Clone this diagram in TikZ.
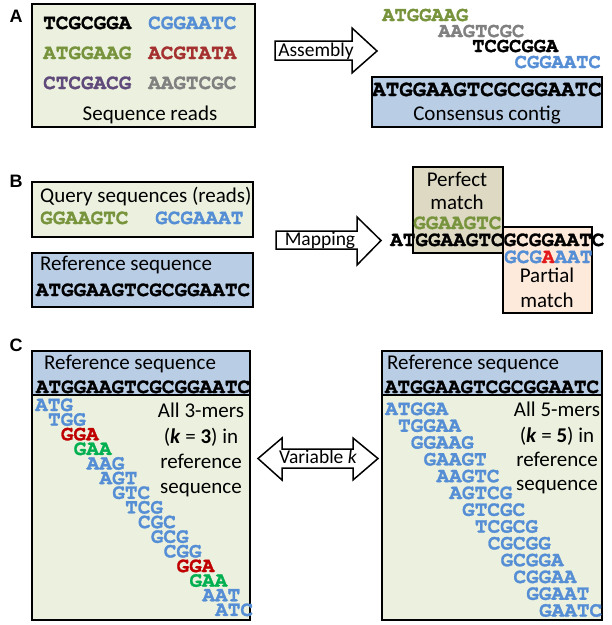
\documentclass[tikz,border=0pt]{standalone}
\usepackage{fontspec}
\setmainfont{Carlito}
\newfontfamily\courfont{TeX Gyre Cursor}[BoldFeatures={FakeBold=1.3}]
\newfontfamily\hdrfont{Liberation Sans}
\definecolor{olivebg}{HTML}{EBF1DE}
\definecolor{bluebg}{HTML}{B9CDE5}
\definecolor{tanbg}{HTML}{DDD9C3}
\definecolor{peachbg}{HTML}{FDEADA}
\definecolor{seqblue}{HTML}{558ED5}
\definecolor{seqgreen}{HTML}{77933C}
\definecolor{seqbrick}{HTML}{A53030}
\definecolor{seqpurple}{HTML}{604A7B}
\definecolor{seqgray}{HTML}{808080}
\definecolor{kred}{HTML}{C00000}
\definecolor{kgreen}{HTML}{00B050}
\definecolor{mismatch}{HTML}{E31A1C}
\begin{document}
\begin{tikzpicture}[x=1pt,y=-1pt,
  panel/.style={draw=black, line width=1.8pt},
  seq/.style={font=\courfont\bfseries\fontsize{21}{21}\selectfont, inner sep=0pt, text height=12pt, text depth=0pt},
  seqs/.style={font=\courfont\bfseries\fontsize{20.5}{20.5}\selectfont, inner sep=0pt, text height=12pt, text depth=0pt},
  seqb/.style={font=\courfont\bfseries\fontsize{22.5}{22.5}\selectfont, inner sep=0pt, text height=12pt, text depth=0pt},
  lbl/.style={font=\fontsize{21}{25}\selectfont, inner sep=0pt, text height=14pt, text depth=4pt},
  albl/.style={font=\fontsize{19.5}{22}\selectfont, inner sep=0pt, text height=14pt, text depth=4pt},
  hdr/.style={font=\hdrfont\bfseries\fontsize{18}{18}\selectfont, inner sep=0pt},
  blockarrow/.style={draw=black, fill=white, line width=1.5pt, line join=miter},
]
\fill[white] (0,0) rectangle (612,625);
\useasboundingbox (0,0) rectangle (612,625);

% ---------------- Panel A ----------------
\node[hdr] (labA) at (16,16) {A};
\draw[panel, fill=olivebg] (32,4) rectangle (255,127);
\node[seq, anchor=west, text=black]     (rA1) at (43,23)  {TCGCGGA};
\node[seq, anchor=west, text=seqblue]   (rA2) at (148,23) {CGGAATC};
\node[seq, anchor=west, text=seqgreen]  (rA3) at (43,53)  {ATGGAAG};
\node[seq, anchor=west, text=seqbrick]  (rA4) at (148,53) {ACGTATA};
\node[seq, anchor=west, text=seqpurple] (rA5) at (43,83)  {CTCGACG};
\node[seq, anchor=west, text=seqgray]   (rA6) at (148,83) {AAGTCGC};
\node[lbl] (srA) at (150,115) {Sequence reads};

\draw[blockarrow] (275,41) -- (352,41) -- (352,28) -- (377,51) -- (352,73) -- (352,60) -- (275,60) -- cycle;
\node[albl] (asm) at (316,51) {Assembly};

\node[seqs, anchor=west, text=seqgreen] (cA1) at (382,15) {ATGGAAG};
\node[seqs, anchor=west, text=seqgray]  (cA2) at (438,31) {AAGTCGC};
\node[seqs, anchor=west, text=black]    (cA3) at (472,46) {TCGCGGA};
\node[seqs, anchor=east, text=seqblue]  (cA4) at (601,62) {CGGAATC};
\draw[panel, fill=bluebg] (372,77) rectangle (602,127);
\node[seqb, text=black] (consA) at (487,90) {ATGGAAGTCGCGGAATC};
\node[lbl] (ccA) at (487,115) {Consensus contig};

% ---------------- Panel B ----------------
\node[hdr] (labB) at (16,181) {B};
\draw[panel, fill=olivebg] (32,182) rectangle (253,237);
\node[lbl, anchor=west] (qB) at (40,197) {Query sequences (reads)};
\node[seq, anchor=west, text=seqgreen] (qB1) at (40,218) {GGAAGTC};
\node[seq, anchor=west, text=seqblue]  (qB2) at (155,218) {GCGAAAT};
\draw[panel, fill=bluebg] (32,253) rectangle (253,307);
\node[lbl, anchor=west] (rfB) at (40,265) {Reference sequence};
\node[seq, text=black] (rsB) at (143,290) {ATGGAAGTCGCGGAATC};

\draw[blockarrow] (276,231) -- (357,231) -- (357,217) -- (381,240.5) -- (357,265) -- (357,249) -- (276,249) -- cycle;
\node[albl] (mapB) at (320,240) {Mapping};

\draw[panel, fill=tanbg] (413,167) rectangle (503,253);
\draw[panel, fill=peachbg] (503,227) rectangle (592,313);
\node[lbl] (pf1) at (457,181) {Perfect};
\node[lbl] (pf2) at (457,204) {match};
\node[seq, anchor=west, text=seqgreen] (pfs) at (413,223) {GGAAGTC};
\node[seq, anchor=west, text=black] (refB) at (390,240) {ATGGAAGTCGCGGAATC};
\node[seq, anchor=west, text=seqblue] (pms) at (504,257) {GCG\textcolor{mismatch}{A}AAT};
\node[lbl] (pm1) at (547,277) {Partial};
\node[lbl] (pm2) at (547,302) {match};

% ---------------- Panel C ----------------
\node[hdr] (labC) at (16,345) {C};
\draw[panel, fill=olivebg] (32,351) rectangle (250,620);
\draw[panel, fill=bluebg] (32,351) rectangle (250,395);
\node[lbl, anchor=west] (rfCL) at (44,364) {Reference sequence};
\node[seq, text=black] (rsCL) at (143,387) {ATGGAAGTCGCGGAATC};
\foreach \s/\c [count=\i from 0] in {ATG/seqblue, TGG/seqblue, GGA/kred, GAA/kgreen, AAG/seqblue, AGT/seqblue, GTC/seqblue, TCG/seqblue, CGC/seqblue, GCG/seqblue, CGG/seqblue, GGA/kred, GAA/kgreen, AAT/seqblue, ATC/seqblue}
  \node[seq, anchor=west, text=\c] (km3-\i) at ({35+12.86*\i},{405+14.64*\i}) {\s};
\node[lbl] (t3a) at (201,412) {All 3-mers};
\node[lbl] (t3b) at (201,438) {(\textbf{\textit{k}} = \textbf{3}) in};
\node[lbl] (t3c) at (201,463) {reference};
\node[lbl] (t3d) at (201,488) {sequence};

\draw[blockarrow] (258,458.5) -- (282,438) -- (282,449) -- (353,449) -- (353,438) -- (378,458.5) -- (353,480) -- (353,468) -- (282,468) -- (282,480) -- cycle;
\node[albl] (vk) at (318,458) {Variable \textit{k}};

\draw[panel, fill=olivebg] (382,351) rectangle (602,620);
\draw[panel, fill=bluebg] (382,351) rectangle (602,395);
\node[lbl, anchor=west] (rfCR) at (387,364) {Reference sequence};
\node[seq, text=black] (rsCR) at (492,387) {ATGGAAGTCGCGGAATC};
\foreach \s [count=\i from 0] in {ATGGA, TGGAA, GGAAG, GAAGT, AAGTC, AGTCG, GTCGC, TCGCG, CGCGG, GCGGA, CGGAA, GGAAT, GAATC}
  \node[seq, anchor=west, text=seqblue] (km5-\i) at ({385+12.83*\i},{409+16.8*\i}) {\s};
\node[lbl] (t5a) at (557,411) {All 5-mers};
\node[lbl] (t5b) at (557,437) {(\textbf{\textit{k}} = \textbf{5}) in};
\node[lbl] (t5c) at (557,461) {reference};
\node[lbl] (t5d) at (557,485) {sequence};
\end{tikzpicture}
\end{document}
